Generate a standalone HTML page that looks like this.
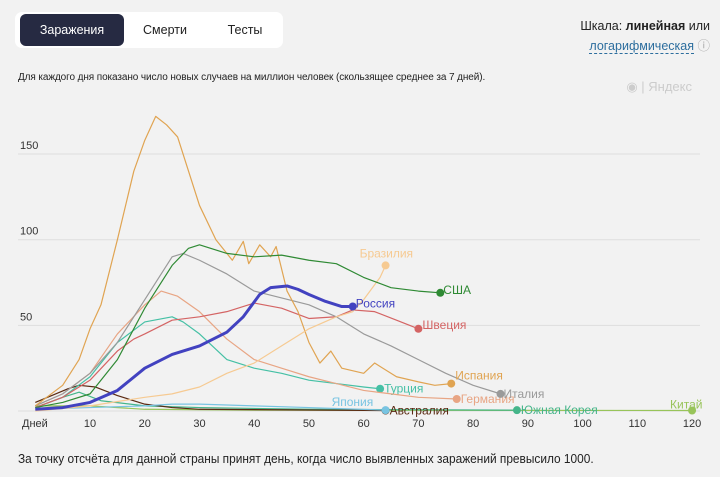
<!DOCTYPE html>
<html><head><meta charset="utf-8"><style>
body{margin:0;width:720px;height:477px;background:#f2f2f2;font-family:"Liberation Sans",sans-serif;overflow:hidden;position:relative}
.tabs{position:absolute;left:15px;top:12px;width:268px;height:36px;background:#fff;border-radius:7px}
.tab{position:absolute;top:2px;height:32px;line-height:32px;font-size:12.5px;color:#222;text-align:center}
.tab.active{background:#262a42;color:#fff;border-radius:6px}
.scale{position:absolute;right:10px;top:16px;font-size:12.5px;color:#222;text-align:right;line-height:20px}
.scale a{color:#2d6e9e;border-bottom:1px dashed #2d6e9e;text-decoration:none}
.desc{position:absolute;left:18px;top:72px;font-size:10px;color:#222;letter-spacing:-0.1px}
.foot{position:absolute;left:18px;top:452px;font-size:12.5px;color:#222;transform:scaleX(0.95);transform-origin:left}
.ya{position:absolute;right:28px;top:79px;font-size:13px;color:#ccc}
svg{position:absolute;left:0;top:0}
</style></head><body>
<div class="tabs">
<div class="tab active" style="left:5px;width:104px">Заражения</div>
<div class="tab" style="left:115px;width:70px">Смерти</div>
<div class="tab" style="left:195px;width:70px">Тесты</div>
</div>
<div class="scale">Шкала: <b>линейная</b> или<br><a>логарифмическая</a> <span style="color:#aaa">ⓘ</span></div>
<div class="desc">Для каждого дня показано число новых случаев на миллион человек (скользящее среднее за 7 дней).</div>
<div class="ya">◉ | Яндекс</div>
<div class="foot">За точку отсчёта для данной страны принят день, когда число выявленных заражений превысило 1000.</div>
<svg id="ch" width="720" height="477"></svg>
<script>
const yTicks=[50,100,150];
const xTicks=[10,20,30,40,50,60,70,80,90,100,110,120];
const names=["Китай","Южная Корея","Австралия","Япония","Турция","Германия","Швеция","Италия","Испания","Бразилия","США","Россия"];
const colors=["#98c45a","#45b58a","#5a2a12","#78c4e2","#45c0a5","#e8a584","#d46464","#9a9a9a","#e0a452","#f6ca92","#2f8a34","#4242c0"];
const China=[[0,3],[10,3],[20,1],[40,0.5],[120,0.3]];
const Korea=[[0,2],[5,8],[8,11],[12,6],[20,3],[30,2],[50,1],[88,0.5]];
const Australia=[[0,5],[3,9],[6,13],[8,15],[11,14],[15,9],[20,4],[25,2],[30,1],[64,0.3]];
const Japan=[[0,1],[10,2],[20,3],[25,4],[30,4],[40,3],[50,2],[64,0.5]];
const Turkey=[[0,2],[5,8],[10,20],[15,40],[20,52],[25,55],[27,52],[30,45],[35,30],[40,25],[45,22],[50,18],[55,16],[60,14],[63,13]];
const Germany=[[0,3],[5,10],[10,22],[15,45],[20,62],[23,70],[26,67],[30,58],[35,42],[40,30],[45,25],[50,20],[55,16],[60,12],[65,10],[70,8],[77,7]];
const Sweden=[[0,2],[5,8],[10,18],[15,35],[18,42],[20,45],[25,53],[30,55],[35,58],[40,63],[45,60],[50,54],[55,55],[58,59],[62,58],[66,53],[70,48]];
const Italy=[[0,3],[5,10],[10,22],[15,40],[20,65],[25,90],[27,92],[30,88],[35,80],[40,70],[45,66],[50,62],[55,55],[60,45],[65,38],[70,30],[75,22],[80,15],[85,10]];
const Spain=[[0,3],[5,15],[8,30],[10,48],[12,62],[15,100],[18,140],[20,158],[22,172],[24,167],[26,160],[28,140],[30,120],[33,100],[36,88],[38,99],[39,86],[41,97],[43,90],[44,96],[46,70],[48,58],[50,40],[52,28],[54,35],[56,25],[60,22],[62,28],[66,20],[70,17],[73,15],[76,16]];
const Brazil=[[0,0],[10,3],[20,8],[25,10],[30,14],[35,22],[40,28],[45,38],[48,44],[50,48],[55,55],[58,58],[60,65],[63,78],[64,85]];
const USA=[[0,2],[5,5],[10,10],[15,30],[20,60],[25,85],[28,95],[30,97],[35,92],[40,90],[45,91],[50,88],[55,86],[60,78],[65,72],[70,70],[74,69]];
const Russia=[[0,1],[5,2],[10,5],[15,12],[20,25],[25,33],[30,38],[35,46],[38,55],[41,68],[43,72],[46,73],[48,71],[50,68],[53,64],[56,61],[58,61]];
const series=[China,Korea,Australia,Japan,Turkey,Germany,Sweden,Italy,Spain,Brazil,USA,Russia];
const labelOff=[[-22,-6],[4,0],[4,0],[-54,-8],[4,0],[4,0],[4,-4],[3,0],[4,-8],[-26,-12],[3,-3],[3,-3]];
const X=d=>35.3+d*5.473, Y=v=>411-v*1.713;
const svg=document.getElementById('ch'),NS="http://www.w3.org/2000/svg";
function mk(t,a){const e=document.createElementNS(NS,t);for(const k in a)e.setAttribute(k,a[k]);svg.appendChild(e);return e;}
yTicks.forEach(v=>{const l=mk('line',{x1:18,x2:700,y1:Y(v),y2:Y(v),stroke:'#dedede'});


const t=mk('text',{x:20,y:Y(v)-5,'font-size':11,fill:'#333'});t.textContent=v;

});
const b=mk('line',{x1:18,x2:700,y1:Y(0),y2:Y(0),stroke:'#ddd'});


const dn=mk('text',{x:22,y:427,'font-size':11,fill:'#333'});dn.textContent='Дней';


xTicks.forEach(d=>{const t=mk('text',{x:X(d),y:427,'font-size':11,fill:'#333','text-anchor':'middle'});t.textContent=d;

});
series.forEach((s,i)=>{const p=mk('polyline',{points:s.map(q=>X(q[0])+','+Y(q[1])).join(' '),fill:'none',stroke:colors[i],'stroke-width':i==11?3:1.2,'stroke-linejoin':'round'});


const last=s[s.length-1];
const c=mk('circle',{cx:X(last[0]),cy:Y(last[1]),r:4,fill:colors[i]});


const t=mk('text',{x:X(last[0])+labelOff[i][0],y:Y(last[1])+labelOff[i][1]+4,'font-size':12,fill:colors[i]});t.textContent=names[i];

});
</script>
</body></html>
